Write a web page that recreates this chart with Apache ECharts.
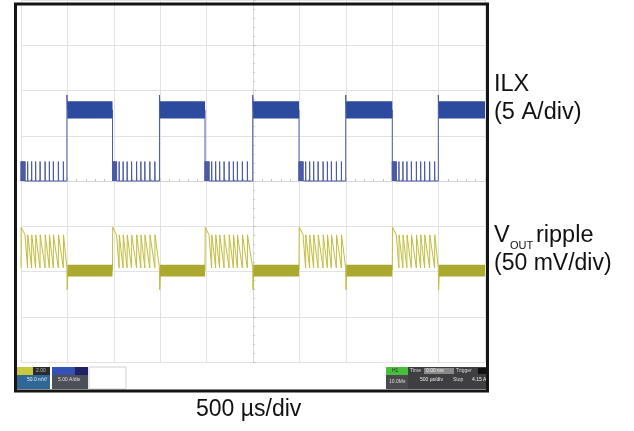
<!DOCTYPE html>
<html><head><meta charset="utf-8">
<script src="https://cdn.jsdelivr.net/npm/echarts@6/dist/echarts.min.js"></script>
<style>html,body{margin:0;padding:0;background:#fff}#c{width:634px;height:431px}</style>
</head><body><div id="c"></div>
<script>
// Time axis: microseconds relative to screen centre (trigger), 500 us/div, 10 div
const xMinUs = -2500, xMaxUs = 2500, xDivUs = 500;
// Vertical axis: screen divisions, 8 div
const yMinDiv = -4, yMaxDiv = 4;

// ILX switching edges (us)
const lowStartUs = [-2500, -1514, -517, 496, 1501];   // ILX falls to 0 (first = screen start)
const highStartUs = [-2005, -1008, -3, 999, 1997];    // ILX rises to the high band
// pulse instants inside each low (burst) phase, offsets from the falling edge (us)
const burstPulseOffsetsUs = [0, 5, 10, 16, 22, 29, 36, 43, 71, 114, 157, 205, 259, 305, 348, 402, 456];

// ILX levels (div)
const ilxBaseDiv = 0.0;
const ilxPulseTopDiv = 0.43;
const ilxBandDiv = [1.38, 1.76];
const ilxOvershootDiv = 1.9;

// VOUT levels (div)
const voutBandDiv = [-2.11, -1.85];
const voutSawTopDiv = -1.19;
const voutSawBottomDiv = -1.92;
const voutJumpPeakDiv = -1.02;
const voutDipDiv = -2.4;

// build traces from the values above
const ilxTrace = [];
const voutTrace = [];
const ilxBands = [];
const voutBands = [];
const ilxMid = (ilxBandDiv[0] + ilxBandDiv[1]) / 2;
const voutMid = (voutBandDiv[0] + voutBandDiv[1]) / 2;
for (let i = 0; i < lowStartUs.length; i++) {
  const tf = lowStartUs[i];
  const tr = highStartUs[i];
  const next = i + 1 < lowStartUs.length ? lowStartUs[i + 1] : xMaxUs;
  if (i > 0) ilxTrace.push([tf, ilxBandDiv[0]]);
  ilxTrace.push([tf, ilxBaseDiv]);
  burstPulseOffsetsUs.forEach(function (s) {
    const t = tf + s;
    if (t + 3 < tr) ilxTrace.push([t, ilxBaseDiv], [t + 0.5, ilxPulseTopDiv], [t + 2.5, ilxBaseDiv]);
  });
  ilxTrace.push([tr, ilxBaseDiv], [tr, ilxOvershootDiv], [tr + 6, ilxMid], [next, ilxMid]);
  ilxBands.push([tr + 4, next, ilxBandDiv[0], ilxBandDiv[1]]);

  if (i > 0) voutTrace.push([tf, voutMid]);
  voutTrace.push([tf, voutSawBottomDiv], [tf + 2, voutJumpPeakDiv], [tf + 43, voutSawTopDiv]);
  burstPulseOffsetsUs.forEach(function (s) {
    const t = tf + s;
    if (s > 60 && t + 3 < tr) voutTrace.push([t, voutSawBottomDiv], [t + 2, voutSawTopDiv]);
  });
  voutTrace.push([tr, voutSawBottomDiv], [tr + 3, voutDipDiv], [tr + 12, voutMid], [next, voutMid]);
  voutBands.push([tr + 6, next, voutBandDiv[0], voutBandDiv[1]]);
}

function bandItem(params, api) {
  const a = api.coord([api.value(0), api.value(3)]);
  const b = api.coord([api.value(1), api.value(2)]);
  return { type: 'rect', shape: { x: a[0], y: a[1], width: b[0] - a[0], height: b[1] - a[1] },
    style: { fill: api.visual('color') } };
}

const FONT = '"Liberation Sans", Arial, sans-serif';
const chart = echarts.init(document.getElementById('c'), null, { renderer: 'canvas' });

const smallTxt = function (x, y, t, c) {
  return { type: 'text', left: x, top: y, z: 120, style: { text: t, fill: c || '#dde', font: '5px ' + FONT } };
};

chart.setOption({
  animation: false,
  backgroundColor: '#ffffff',
  grid: { left: 21, top: 0, width: 464, height: 362, show: false },
  xAxis: {
    type: 'value', min: xMinUs, max: xMaxUs, interval: xDivUs,
    axisLine: { show: true, onZero: true, lineStyle: { color: '#d4d4d4', width: 1 } },
    axisTick: { show: true, inside: true, length: 3, lineStyle: { color: '#c8c8c8' } },
    minorTick: { show: true, splitNumber: 5, length: 2, lineStyle: { color: '#c8c8c8' } },
    axisLabel: { show: false },
    splitLine: { show: true, lineStyle: { color: '#e2e2e2', width: 1 } }
  },
  yAxis: {
    type: 'value', min: yMinDiv, max: yMaxDiv, interval: 1,
    axisLine: { show: true, onZero: true, lineStyle: { color: '#d4d4d4', width: 1 } },
    axisTick: { show: true, inside: true, length: 3, lineStyle: { color: '#c8c8c8' } },
    minorTick: { show: true, splitNumber: 5, length: 2, lineStyle: { color: '#c8c8c8' } },
    axisLabel: { show: false },
    splitLine: { show: true, lineStyle: { color: '#e2e2e2', width: 1 } }
  },
  series: [
    { name: 'ILX', type: 'line', data: ilxTrace, showSymbol: false, symbol: 'none',
      lineStyle: { color: '#4b5aa6', width: 1 }, z: 3 },
    { name: 'ILX band', type: 'custom', data: ilxBands, renderItem: bandItem, clip: true,
      encode: { x: [0, 1], y: [2, 3] }, itemStyle: { color: '#2c4b9e' }, z: 4 },
    { name: 'VOUT', type: 'line', data: voutTrace, showSymbol: false, symbol: 'none',
      lineStyle: { color: '#c2bd3e', width: 1 }, z: 3 },
    { name: 'VOUT band', type: 'custom', data: voutBands, renderItem: bandItem, clip: true,
      encode: { x: [0, 1], y: [2, 3] }, itemStyle: { color: '#acaa2e' }, z: 4 }
  ],
  graphic: [
    { type: 'rect', shape: { x: 17, y: 367, width: 16, height: 8 }, style: { fill: '#c9c83e' }, z: 110 },
    { type: 'rect', shape: { x: 33, y: 367, width: 17, height: 8 }, style: { fill: '#2b2b2b' }, z: 110 },
    { type: 'rect', shape: { x: 17, y: 375, width: 33, height: 14 }, style: { fill: '#2f6896' }, z: 110 },
    { type: 'rect', shape: { x: 52, y: 367, width: 23, height: 8 }, style: { fill: '#3452b4' }, z: 110 },
    { type: 'rect', shape: { x: 75, y: 367, width: 13, height: 8 }, style: { fill: '#1d2262' }, z: 110 },
    { type: 'rect', shape: { x: 52, y: 375, width: 36, height: 14 }, style: { fill: '#4e5058' }, z: 110 },
    { type: 'rect', shape: { x: 89, y: 367, width: 37, height: 22 }, style: { fill: '#ffffff', stroke: '#cfcfcf', lineWidth: 1 }, z: 110 },
    { type: 'rect', shape: { x: 386, y: 367, width: 22, height: 8 }, style: { fill: '#4cbc3c' }, z: 110 },
    { type: 'rect', shape: { x: 386, y: 375, width: 22, height: 14 }, style: { fill: '#4a4a4e' }, z: 110 },
    { type: 'rect', shape: { x: 408, y: 367, width: 79, height: 22 }, style: { fill: '#3f3f42' }, z: 110 },
    { type: 'rect', shape: { x: 424, y: 368, width: 30, height: 6 }, style: { fill: '#8a8a8a' }, z: 111 },
    { type: 'rect', shape: { x: 478, y: 368, width: 8, height: 6 }, style: { fill: '#111111' }, z: 111 },
    smallTxt(36, 368, '2.00', '#bbb'),
    smallTxt(27, 377, '50.0 mV/', '#e8eef8'),
    smallTxt(58, 377, '5.00 A/div', '#e0e0e8'),
    smallTxt(392, 368, 'H1', '#233'),
    smallTxt(389, 379, '10.0Ms', '#ddd'),
    smallTxt(410, 368, 'Time', '#ddd'),
    smallTxt(426, 368, '0.00 ms', '#eee'),
    smallTxt(456, 368, 'Trigger', '#ddd'),
    smallTxt(420, 377, '500 µs/div', '#eee'),
    smallTxt(453, 377, 'Stop', '#ddd'),
    smallTxt(472, 377, '4.15 A', '#eee'),
    { type: 'rect', shape: { x: 15.5, y: 4, width: 472, height: 387 }, style: { fill: 'none', stroke: '#151515', lineWidth: 3 }, z: 130 },
    { type: 'text', left: 494, top: 73, z: 140, style: { text: 'ILX', fill: '#111', font: '23.5px ' + FONT } },
    { type: 'text', left: 494, top: 101, z: 140, style: { text: '(5 A/div)', fill: '#111', font: '23.5px ' + FONT } },
    { type: 'text', left: 494, top: 224, z: 140, style: { text: 'V', fill: '#111', font: '23.5px ' + FONT } },
    { type: 'text', left: 510, top: 240, z: 140, style: { text: 'OUT', fill: '#111', font: '11px ' + FONT } },
    { type: 'text', left: 536, top: 224, z: 140, style: { text: 'ripple', fill: '#111', font: '23.5px ' + FONT } },
    { type: 'text', left: 494, top: 252, z: 140, style: { text: '(50 mV/div)', fill: '#111', font: '23px ' + FONT } },
    { type: 'text', left: 196, top: 398, z: 140, style: { text: '500 µs/div', fill: '#111', font: '23px ' + FONT } }
  ]
});
</script>
</body></html>
